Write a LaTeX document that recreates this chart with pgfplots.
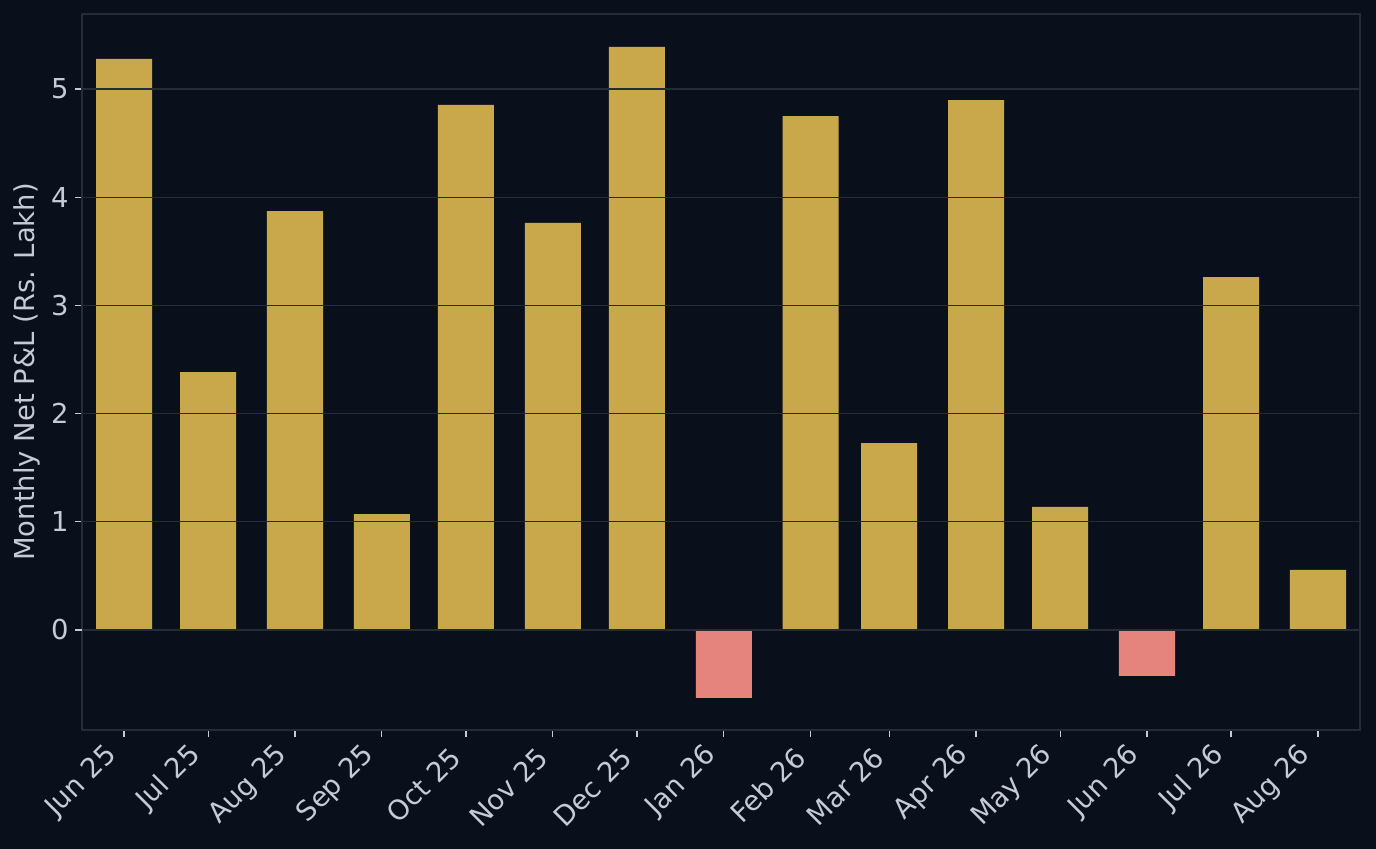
\documentclass[border=0pt]{standalone}
\usepackage{pgfplots}
\pgfplotsset{compat=1.18}
\usepackage{fontspec}
\setmainfont{DejaVu Sans}
\usetikzlibrary{backgrounds}

\definecolor{bgc}{HTML}{0A0F1C}
\definecolor{gold}{HTML}{C9A84C}
\definecolor{loss}{HTML}{E5837D}
\definecolor{txt}{HTML}{C5CAD6}
\definecolor{gridc}{HTML}{262B38}

% x = days since 1 Jun 2025
\pgfplotstableread{
x    y
0    5.277
30   2.384
61   3.872
92   1.072
122  4.852
153  3.762
183  5.388
245  4.750
273  1.728
304  4.898
334  1.137
395  3.262
426  0.555
}\gains
\pgfplotstableread{
x    y
214  -0.628
365  -0.425
}\losses

\begin{document}
\begin{tikzpicture}
\begin{axis}[
    at={(0,0)}, anchor=south west,
    scale only axis,
    width=639pt, height=358pt,
    xmin=-15, xmax=441,
    ymin=-0.924, ymax=5.693,
    axis background/.style={fill=bgc},
    axis line style={gridc, line width=0.8pt},
    axis on top,
    ymajorgrids,
    grid style={gridc, line width=0.6pt},
    xtick={0,30,61,92,122,153,183,214,245,273,304,334,365,395,426},
    xticklabels={Jun 25,Jul 25,Aug 25,Sep 25,Oct 25,Nov 25,Dec 25,Jan 26,Feb 26,Mar 26,Apr 26,May 26,Jun 26,Jul 26,Aug 26},
    ytick={0,1,2,3,4,5},
    tick align=outside,
    tick pos=left,
    major tick length=3.5pt,
    tick style={txt, line width=0.6pt},
    ticklabel style={font=\fontsize{13.7}{15}\selectfont, text=txt},
    xticklabel style={anchor=south east, inner sep=1.5pt, xshift=1pt, yshift=-11.5pt, rotate=45},
    yticklabel style={inner sep=3pt},
    /pgf/number format/assume math mode=true,
    ylabel={Monthly Net P\&L (Rs. Lakh)},
    ylabel style={font=\fontsize{13.7}{15}\selectfont, text=txt, at={(rel axis cs:0,0.5)}, anchor=center, yshift=27.5pt},
    ybar, bar width=20, bar shift=0pt,
    extra y ticks={0},
    extra y tick style={grid style={gridc, line width=1.2pt}, tick style={txt}},
    extra y tick labels={},
]
\addplot[fill=gold, draw=none] table[x=x,y=y] {\gains};
\addplot[fill=loss, draw=none] table[x=x,y=y] {\losses};
\end{axis}
\begin{scope}[on background layer]
\fill[bgc] (-41pt,-59.5pt) rectangle (647pt,365pt);
\end{scope}
\pgfresetboundingbox
\path[use as bounding box] (-41pt,-59.5pt) rectangle (647pt,365pt);
\end{tikzpicture}
\end{document}
